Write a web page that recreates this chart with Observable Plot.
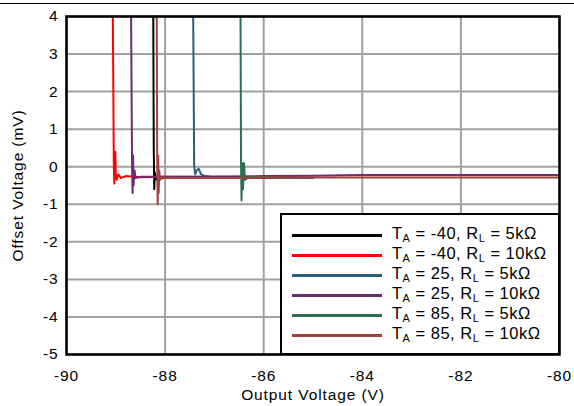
<!DOCTYPE html>
<html>
<head>
<meta charset="utf-8">
<script src="https://cdn.jsdelivr.net/npm/d3@7"></script>
<script src="https://cdn.jsdelivr.net/npm/@observablehq/plot@0.6"></script>
<style>
  html, body { margin: 0; padding: 0; background: #fff; }
  #wrap { position: relative; width: 574px; height: 406px; overflow: hidden; font-family: "Liberation Sans", Arial, Helvetica, sans-serif; }
  #topline { position: absolute; left: 0; top: 3px; width: 574px; height: 1px; background: #000; }
  #legend { position: absolute; left: 280px; top: 213px; width: 276px; height: 138px; border: 2px solid #000; background: #fff; box-sizing: content-box; }
  .row { position: absolute; left: 10px; height: 20px; width: 270px; }
  .sw { position: absolute; left: 0; top: 9px; width: 90px; height: 3px; }
  .lab { position: absolute; left: 100px; top: -2px; font-size: 16.5px; line-height: 20px; white-space: nowrap; color: #000; letter-spacing: 0.5px; }
  .lab sub { font-size: 11px; vertical-align: -3px; line-height: 0; }
  svg text { letter-spacing: 0.9px; }
</style>
</head>
<body>
<div id="wrap">
  <div id="chart"></div>
  <div id="topline"></div>
  <div id="legend"></div>
</div>
<script>
// Series names / legend labels
const seriesNames = ["-40_5k", "-40_10k", "25_5k", "25_10k", "85_5k", "85_10k"];
const seriesTemps = ["-40", "-40", "25", "25", "85", "85"];
const seriesLoads = ["5k", "10k", "5k", "10k", "5k", "10k"];
const seriesColors = ["#000000", "#ff0000", "#2b5f7e", "#6b2d6e", "#2b7050", "#a33f3c"];

const xTicks = [-90, -88, -86, -84, -82, -80];
const yTicks = [-5, -4, -3, -2, -1, 0, 1, 2, 3, 4];

// T_A = -40, R_L = 5kΩ
const x_m40_5k = [-88.24, -88.23, -88.22, -88.21, -88.19, -88.15, -88.1, -87.5, -87.0, -86.5, -86.0, -85.5, -85.0];
const y_m40_5k = [4, 0.5, -0.6, -0.15, -0.35, -0.25, -0.3, -0.29, -0.3, -0.28, -0.3, -0.29, -0.3];
// T_A = -40, R_L = 10kΩ
const x_m40_10k = [-89.06, -89.04, -89.03, -89.01, -89.0, -88.98, -88.95, -88.9, -88.8, -88.5, -88.0, -87.0, -86.0, -85.0];
const y_m40_10k = [4, 0.0, -0.45, 0.4, -0.2, -0.35, -0.2, -0.3, -0.25, -0.28, -0.27, -0.28, -0.29, -0.3];
// T_A = 25, R_L = 5kΩ
const x_25_5k = [-87.43, -87.41, -87.39, -87.36, -87.32, -87.27, -87.2, -87.0, -86.0, -85.0];
const y_25_5k = [4, 0.0, -0.2, -0.1, -0.05, -0.2, -0.25, -0.28, -0.28, -0.3];
// T_A = 25, R_L = 10kΩ
const x_25_10k = [-88.69, -88.67, -88.66, -88.65, -88.64, -88.62, -88.6, -88.5, -88.0, -87.0, -86.0, -85.0, -84.0, -82.0, -80.0];
const y_25_10k = [4, 0.0, -0.7, 0.3, -0.5, -0.1, -0.3, -0.27, -0.27, -0.26, -0.25, -0.24, -0.22, -0.22, -0.22];
// T_A = 85, R_L = 5kΩ
const x_85_5k = [-86.47, -86.46, -86.45, -86.44, -86.42, -86.40, -86.38, -86.3, -86.0, -85.5, -85.0];
const y_85_5k = [4, 0.2, -0.9, 0.1, -0.6, 0.1, -0.35, -0.27, -0.28, -0.3, -0.3];
// T_A = 85, R_L = 10kΩ
const x_85_10k = [-88.17, -88.16, -88.15, -88.14, -88.13, -88.12, -88.1, -88.05, -88.0, -87.0, -86.0, -85.0, -84.0, -82.0, -80.0];
const y_85_10k = [4, 0.2, -1.0, 0.3, -0.7, -0.1, -0.35, -0.28, -0.3, -0.3, -0.29, -0.29, -0.29, -0.29, -0.29];

const xsAll = [x_m40_5k, x_m40_10k, x_25_5k, x_25_10k, x_85_5k, x_85_10k];
const ysAll = [y_m40_5k, y_m40_10k, y_25_5k, y_25_10k, y_85_5k, y_85_10k];

const data = [];
seriesNames.forEach((s, i) => {
  xsAll[i].forEach((x, j) => data.push({series: s, x, y: ysAll[i][j]}));
});

const fmt = d => String(d);

const chart = Plot.plot({
  width: 574,
  height: 406,
  marginLeft: 66,
  marginRight: 15,
  marginTop: 16,
  marginBottom: 52,
  style: {fontFamily: '"Liberation Sans", Arial, Helvetica, sans-serif', fontSize: "15.5px", color: "#000", background: "transparent", overflow: "visible"},
  x: {domain: [-90, -80]},
  y: {domain: [-5, 4]},
  color: {domain: seriesNames, range: seriesColors},
  marks: [
    Plot.gridX(xTicks, {stroke: "#a0a0a0", strokeOpacity: 1, strokeWidth: 2}),
    Plot.gridY(yTicks, {stroke: "#a0a0a0", strokeOpacity: 1, strokeWidth: 2}),
    Plot.line(data, {x: "x", y: "y", z: "series", stroke: "series", strokeWidth: 2, curve: "linear"}),
    Plot.frame({stroke: "#000", strokeWidth: 2.5}),
    Plot.axisX(xTicks, {tickSize: 0, tickPadding: 15, tickFormat: fmt, label: "Output Voltage (V)", labelAnchor: "center", labelArrow: "none", labelOffset: 45}),
    Plot.axisY(yTicks, {tickSize: 0, tickPadding: 8, tickFormat: fmt, label: "Offset Voltage (mV)", labelAnchor: "center", labelArrow: "none", labelOffset: 55})
  ]
});
document.getElementById("chart").appendChild(chart);

// Legend
const legend = document.getElementById("legend");
seriesNames.forEach((s, i) => {
  const row = document.createElement("div");
  row.className = "row";
  row.style.top = (10 + i * 20) + "px";
  row.innerHTML = `<div class="sw" style="background:${seriesColors[i]}"></div>` +
    `<div class="lab">T<sub>A</sub> = ${seriesTemps[i]}, R<sub>L</sub> = ${seriesLoads[i]}Ω</div>`;
  legend.appendChild(row);
});
</script>
</body>
</html>
